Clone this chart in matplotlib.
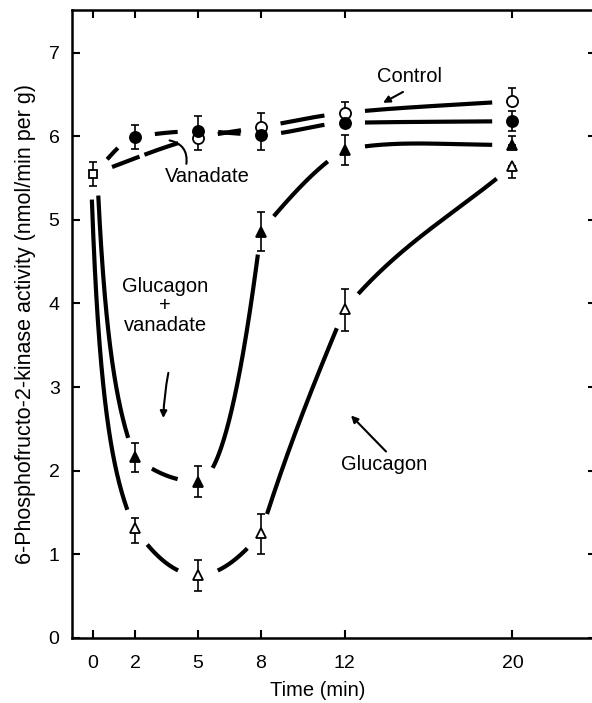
import numpy as np
import matplotlib
matplotlib.use("Agg")
import matplotlib.pyplot as plt

# ------------------------------------------------------------------
#   Data (time in min, activity in nmol/min per g)
# ------------------------------------------------------------------
start_t = [0]
start_y = [5.55]
start_err = [0.14]

# open circles
control_t = [5, 8, 12, 20]
control_y = [5.98, 6.11, 6.28, 6.42]
control_lo = [0.15, 0.0, 0.0, 0.0]
control_hi = [0.0, 0.17, 0.13, 0.16]

# filled circles
vanadate_t = [2, 5, 8, 12, 20]
vanadate_y = [5.99, 6.06, 6.02, 6.16, 6.18]
vanadate_lo = [0.14, 0.0, 0.18, 0.0, 0.12]
vanadate_hi = [0.14, 0.18, 0.0, 0.0, 0.12]

# filled triangles
glu_van_t = [2, 5, 8, 12, 20]
glu_van_y = [2.16, 1.87, 4.86, 5.84, 5.90]
glu_van_lo = [0.17, 0.19, 0.23, 0.18, 0.0]
glu_van_hi = [0.17, 0.19, 0.23, 0.18, 0.10]

# open triangles
glucagon_t = [2, 5, 8, 12, 20]
glucagon_y = [1.31, 0.75, 1.25, 3.93, 5.65]
glucagon_lo = [0.17, 0.19, 0.24, 0.26, 0.15]
glucagon_hi = [0.12, 0.18, 0.23, 0.24, 0.0]

x_ticks = [0, 2, 5, 8, 12, 20]
y_ticks = [0, 1, 2, 3, 4, 5, 6, 7]

plt.rcParams['font.family'] = ['Liberation Sans', 'DejaVu Sans']


def pchip_slopes(x, y):
    h = np.diff(x)
    d = np.diff(y) / h
    m = np.zeros_like(y)
    for k in range(1, len(x) - 1):
        if d[k - 1] * d[k] > 0:
            w1 = 2 * h[k] + h[k - 1]
            w2 = h[k] + 2 * h[k - 1]
            m[k] = (w1 + w2) / (w1 / d[k - 1] + w2 / d[k])
    m[0] = d[0]
    m[-1] = d[-1]
    return m


def smooth_curve(x, y, drop=None, kinks=None, n=150):
    # hand-drawn look: cubic pieces between points; the first piece can be
    # bent into a sharp drop (lead-in shift, bend), and the drawn curve may
    # change direction at a point (kinks: t -> (slope in, slope out))
    x = np.asarray(x, float)
    y = np.asarray(y, float)
    m = pchip_slopes(x, y)
    m_in, m_out = m.copy(), m.copy()
    for tk, (a, b) in (kinks or {}).items():
        k = int(np.where(x == tk)[0][0])
        m_in[k], m_out[k] = a, b
    xs, ys = [], []
    for k in range(len(x) - 1):
        s = np.linspace(0, 1, n)
        h = x[k + 1] - x[k]
        if k == 0 and drop is not None:
            lead, bend = drop
            x0 = x[0] + lead
            seg = y[1] + (y[0] - y[1]) * (1 - s) / (1 + bend * s)
            xs.append(x0 + s * (x[1] - x0))
            ys.append(seg)
            continue
        seg = ((2 * s**3 - 3 * s**2 + 1) * y[k] + (s**3 - 2 * s**2 + s) * h * m_out[k]
               + (-2 * s**3 + 3 * s**2) * y[k + 1] + (s**3 - s**2) * h * m_in[k + 1])
        xs.append(x[k] + s * h)
        ys.append(seg)
    return np.concatenate(xs), np.concatenate(ys)


fig = plt.figure(figsize=(5.92, 7.03), dpi=100)
ax = fig.add_axes([0.1218, 0.0925, 0.8855, 0.8933])
ax.set_xlim(-1, 24)
ax.set_ylim(0, 7.51)

series = [
    (control_t, control_y, control_lo, control_hi, 'o', 'white', 8, None, None),
    (vanadate_t, vanadate_y, vanadate_lo, vanadate_hi, 'o', 'black', 8, None, None),
    (glu_van_t, glu_van_y, glu_van_lo, glu_van_hi, '^', 'black', 7.5,
     (0.2, 2.0), {8: (2.0, 0.3), 12: (0.15, 0.05)}),
    (glucagon_t, glucagon_y, glucagon_lo, glucagon_hi, '^', 'white', 7.5,
     (-0.1, 2.8), {8: (0.3, 0.8), 12: (0.6, 0.3)}),
]

# all marker centres in pixels, used to leave gaps in the lines
all_pts = [(start_t[0], start_y[0])]
for s_ in series:
    all_pts += list(zip(s_[0], s_[1]))
all_px = ax.transData.transform(np.array(all_pts, float))

gap = 20  # pixels
for t, y, lo, hi, mk, fc, ms, drop, kinks in series:
    cx, cy = smooth_curve(start_t + t, start_y + y, drop=drop, kinks=kinks)
    px = ax.transData.transform(np.column_stack([cx, cy]))
    dist = np.min(np.hypot(px[:, None, 0] - all_px[None, :, 0],
                           px[:, None, 1] - all_px[None, :, 1]), axis=1)
    cy = np.where(dist < gap, np.nan, cy)
    ax.plot(cx, cy, color='black', lw=3.0, solid_capstyle='butt', zorder=2)

for t, y, lo, hi, mk, fc, ms, drop, kinks in series:
    ax.errorbar(t, y, yerr=[lo, hi], fmt='none', ecolor='black', elinewidth=1.2,
                capsize=3.2, capthick=1.2, zorder=3)
    ax.plot(t, y, linestyle='none', marker=mk, ms=ms, mfc=fc, mec='black',
            mew=1.3, zorder=4)

ax.errorbar(start_t, start_y, yerr=start_err, fmt='none', ecolor='black',
            elinewidth=1.2, capsize=3.2, capthick=1.2, zorder=3)
ax.plot(start_t, start_y, linestyle='none', marker='s', ms=5.5, mfc='white',
        mec='black', mew=1.3, zorder=4)

# labels and pointers
fs = 14.5
ax.text(15.07, 6.71, 'Control', fontsize=fs, ha='center', va='center')
ax.annotate('', xy=(13.83, 6.40), xytext=(14.78, 6.53),
            arrowprops=dict(arrowstyle='-|>', color='black', lw=1.5,
                            mutation_scale=10, shrinkA=0, shrinkB=0))

ax.text(5.45, 5.52, 'Vanadate', fontsize=fs, ha='center', va='center')
ax.annotate('', xy=(3.65, 5.95), xytext=(4.45, 5.67),
            arrowprops=dict(arrowstyle='-', color='black', lw=1.5,
                            connectionstyle='arc3,rad=0.45', shrinkA=0, shrinkB=0))

ax.text(3.44, 3.97, 'Glucagon\n+\nvanadate', fontsize=fs, ha='center',
        va='center', linespacing=1.05)
ax.annotate('', xy=(3.35, 2.63), xytext=(3.59, 3.17),
            arrowprops=dict(arrowstyle='-|>', color='black', lw=1.5,
                            mutation_scale=10, shrinkA=0, shrinkB=0,
                            connectionstyle='arc3,rad=0.04'))

ax.text(13.9, 2.07, 'Glucagon', fontsize=fs, ha='center', va='center')
ax.annotate('', xy=(12.3, 2.66), xytext=(13.97, 2.23),
            arrowprops=dict(arrowstyle='-|>', color='black', lw=1.5,
                            mutation_scale=10, shrinkA=0, shrinkB=0))

# axes
ax.set_xticks(x_ticks)
ax.set_yticks(y_ticks)
ax.tick_params(direction='in', length=6, width=1.5, top=True, right=True,
               labelsize=14, colors='black')
ax.tick_params(axis='x', pad=12)
ax.tick_params(axis='y', pad=9)
for sp in ax.spines.values():
    sp.set_linewidth(1.8)

ax.set_xlabel('Time (min)', fontsize=fs)
ax.xaxis.set_label_coords(0.469, -0.068)
ax.set_ylabel('6-Phosphofructo-2-kinase activity (nmol/min per g)', fontsize=15.5)
ax.yaxis.set_label_coords(-0.068, 0.5)

fig.savefig('out.png', dpi=100)
